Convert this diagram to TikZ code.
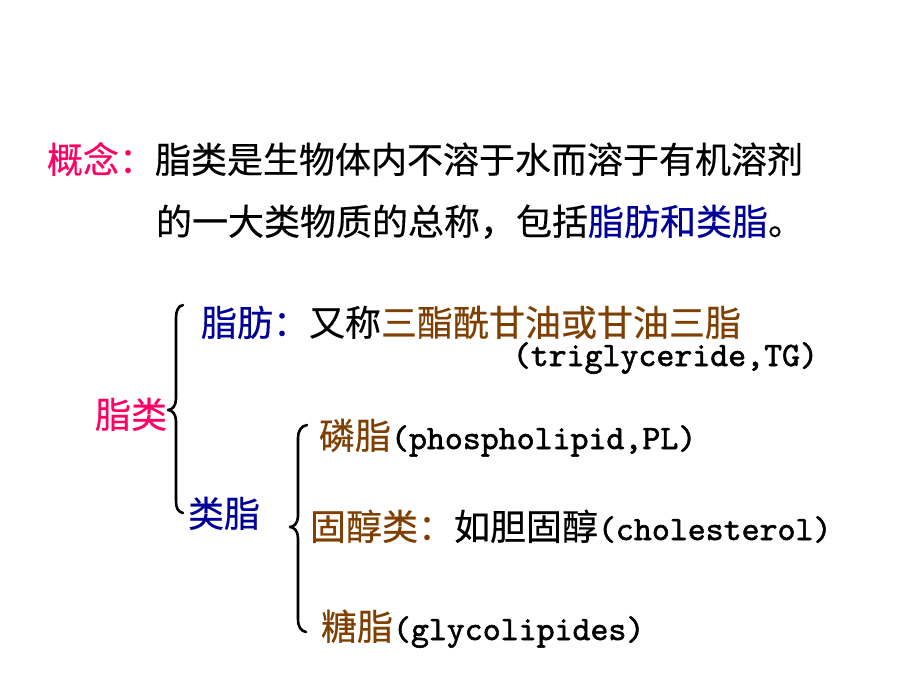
\documentclass[tikz,border=0pt]{standalone}
\usepackage{fontspec}
\setmainfont{Noto Sans CJK SC}[FakeBold=0.4]
\newfontfamily\latf{lmmono10-regular.otf}[FakeBold=1.6]
\definecolor{cpink}{HTML}{FF0066}
\definecolor{cblue}{HTML}{000099}
\definecolor{cbrown}{HTML}{7F3F00}
\newcommand{\lat}[1]{{\latf\fontsize{34.2}{38}\selectfont #1}}
\tikzset{
  txt/.style={inner sep=0pt, outer sep=0pt, anchor=base west, font=\fontsize{36}{40}\selectfont},
  bracepath/.style={line width=2.6pt, line cap=round, line join=round}
}
\begin{document}
\begin{tikzpicture}[x=1pt,y=-1pt]
\useasboundingbox[fill=white] (0,0) rectangle (920,690);
\node[txt] (concept) at (47,173) {\textcolor{cpink}{概念：}脂类是生物体内不溶于水而溶于有机溶剂};
\node[txt] (line2) at (156,235) {的一大类物质的总称，包括\textcolor{cblue}{脂肪和类脂}。};
\node[txt] (fat) at (201,336) {\textcolor{cblue}{脂肪：}又称\textcolor{cbrown}{三酯酰甘油或甘油三脂}};
\node[txt, anchor=base east] (tg) at (818,366) {\lat{(triglyceride,TG)}};
\node[txt, text=cpink] (lipid) at (95,428) {脂类};
\node[txt, text=cblue] (lipoid) at (188,527) {类脂};
\node[txt] (pl) at (319,449) {\textcolor{cbrown}{磷脂}\lat{(phospholipid,PL)}};
\node[txt] (chol) at (310,540) {\textcolor{cbrown}{固醇类：}如胆固醇\lat{(cholesterol)}};
\node[txt] (glyco) at (321,640) {\textcolor{cbrown}{糖脂}\lat{(glycolipides)}};
% brace 1
\draw[bracepath] (183,305) .. controls (178,306) and (176,311) .. (176,318)
  -- (176,399) .. controls (176,406) and (172,410) .. (168,410)
  .. controls (172,410) and (176,414) .. (176,421)
  -- (176,501) .. controls (176,508) and (178,512) .. (183,513);
% brace 2
\draw[bracepath] (307,425) .. controls (301,426) and (298,431) .. (298,438)
  -- (298,516) .. controls (298,523) and (294,527) .. (290,527)
  .. controls (294,527) and (298,531) .. (298,538)
  -- (298,619) .. controls (298,627) and (301,631) .. (306,632);
\end{tikzpicture}
\end{document}
